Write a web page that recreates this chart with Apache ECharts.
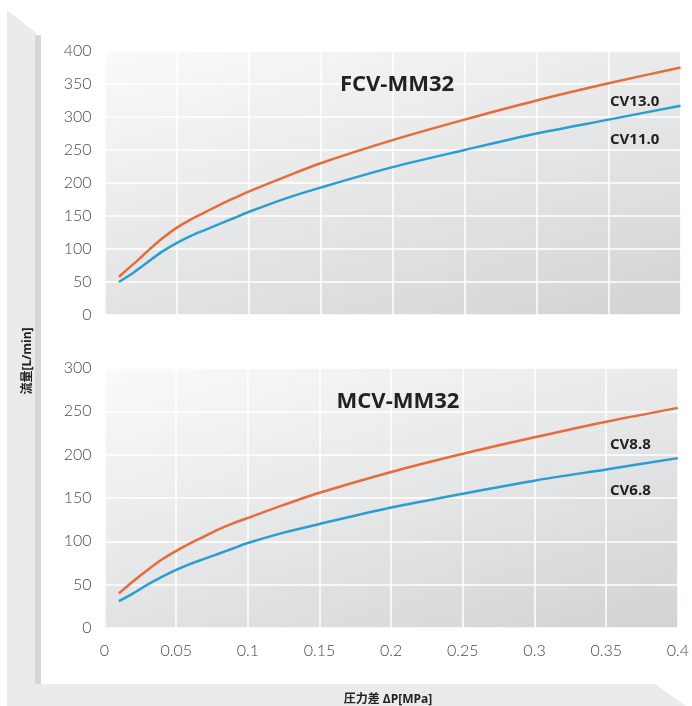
<!DOCTYPE html>
<html>
<head>
<meta charset="utf-8">
<script src="https://cdn.jsdelivr.net/npm/echarts@6/dist/echarts.min.js"></script>
<style>html,body{margin:0;padding:0;background:#fff}#c{width:692px;height:706px}</style>
</head>
<body>
<div id="c"></div>
<script>
var pressure = [0.01,0.02,0.03,0.04,0.05,0.06,0.07,0.08,0.09,0.1,0.125,0.15,0.2,0.25,0.3,0.35,0.4];
var fcvCv130 = [58,77,97,116,132,145,156,167,177,187,209,230,265,296,325,351,375];
var fcvCv110 = [50,64,80,96,109,120,129,138,147,156,176,193,224,250,275,296,317];
var mcvCv88  = [40,54,67,79,89,98,106,114,121,127,142,156,180,201,220,238,254];
var mcvCv68  = [31,40,50,59,67,74,80,86,92,98,110,120,139,155,170,183,196];
var xTicks = [0,0.05,0.1,0.15,0.2,0.25,0.3,0.35,0.4];
var topTicks = [0,50,100,150,200,250,300,350,400];
var bottomTicks = [0,50,100,150,200,250,300];

function pairs(xs, ys){ return xs.map(function(x,i){ return [x, ys[i]]; }); }

var chart = echarts.init(document.getElementById('c'));
function bg(){ return new echarts.graphic.LinearGradient(0,0,0.21,1.52,[{offset:0,color:'#fafafa'},{offset:1,color:'#d2d3d5'}]); }
var orange = '#e96a3a', blue = '#2b9dd3';
var labelFont = 'Lato, "Open Sans", sans-serif';
var boldFont = '"Open Sans", "Noto Sans CJK JP", sans-serif';

function xAxis(idx, showLabel){
  return {type:'value', gridIndex:idx, min:xTicks[0], max:xTicks[xTicks.length-1], interval:0.05,
    axisLine:{show:false}, axisTick:{show:false},
    axisLabel:{show:showLabel, color:'#4a4a4a', fontSize:16, fontFamily:labelFont, fontWeight:300, margin:15,
      formatter:function(v){ return String(+v.toFixed(2)); }},
    splitLine:{show:true, lineStyle:{color:'#ffffff', width:1.5}}};
}
function yAxis(idx, ticks){
  return {type:'value', gridIndex:idx, min:ticks[0], max:ticks[ticks.length-1], interval:50,
    axisLine:{show:false}, axisTick:{show:false},
    axisLabel:{color:'#4a4a4a', fontSize:16, fontFamily:labelFont, fontWeight:300, margin:13},
    splitLine:{show:true, lineStyle:{color:'#ffffff', width:1.5}}};
}
function line(xi, yi, data, color){
  return {type:'line', xAxisIndex:xi, yAxisIndex:yi, data:pairs(pressure, data), smooth:0.3,
    symbol:'none', lineStyle:{color:color, width:2.5}, itemStyle:{color:color}, silent:true};
}
function txt(x, y, s, size, extra){
  var st = {x:x, y:y, text:s, fill:'#222', font:'bold '+size+'px '+boldFont, textBaseline:'middle', textAlign:'left'};
  for (var k in extra) st[k]=extra[k];
  return {type:'text', z:10, style:st};
}

chart.setOption({
  animation:false,
  grid:[
    {left:104.5, top:51, width:576, height:264, show:true, borderWidth:0, backgroundColor:bg()},
    {left:104.5, top:368, width:576, height:260, show:true, borderWidth:0, backgroundColor:bg()}
  ],
  xAxis:[xAxis(0,false), xAxis(1,true)],
  yAxis:[yAxis(0, topTicks), yAxis(1, bottomTicks)],
  series:[
    line(0,0,fcvCv130,orange), line(0,0,fcvCv110,blue),
    line(1,1,mcvCv88,orange), line(1,1,mcvCv68,blue)
  ],
  graphic:[
    {type:'polygon', z:-5, silent:true, shape:{points:[[7,10],[36,33],[36,684],[655,684],[686,706],[7,706]]}, style:{fill:'#ebebeb'}},
    {type:'rect', z:-4, silent:true, shape:{x:35,y:35,width:6,height:649}, style:{fill:'#d7d7d7'}},
    txt(397, 74, 'FCV-MM32', 22, {textAlign:'center'}),
    txt(398, 391, 'MCV-MM32', 22, {textAlign:'center'}),
    txt(610, 94, 'CV13.0', 15),
    txt(610, 132, 'CV11.0', 15),
    txt(610, 437, 'CV8.8', 15),
    txt(610, 483, 'CV6.8', 15),
    {type:'text', z:10, x:22, y:361, rotation:Math.PI/2,
      style:{x:0, y:0, text:'流量[L/min]', fill:'#222', font:'bold 12px '+boldFont, textAlign:'center', textBaseline:'middle'}},
    txt(388, 694, '圧力差 ΔP[MPa]', 12, {textAlign:'center'})
  ]
});
</script>
</body>
</html>
